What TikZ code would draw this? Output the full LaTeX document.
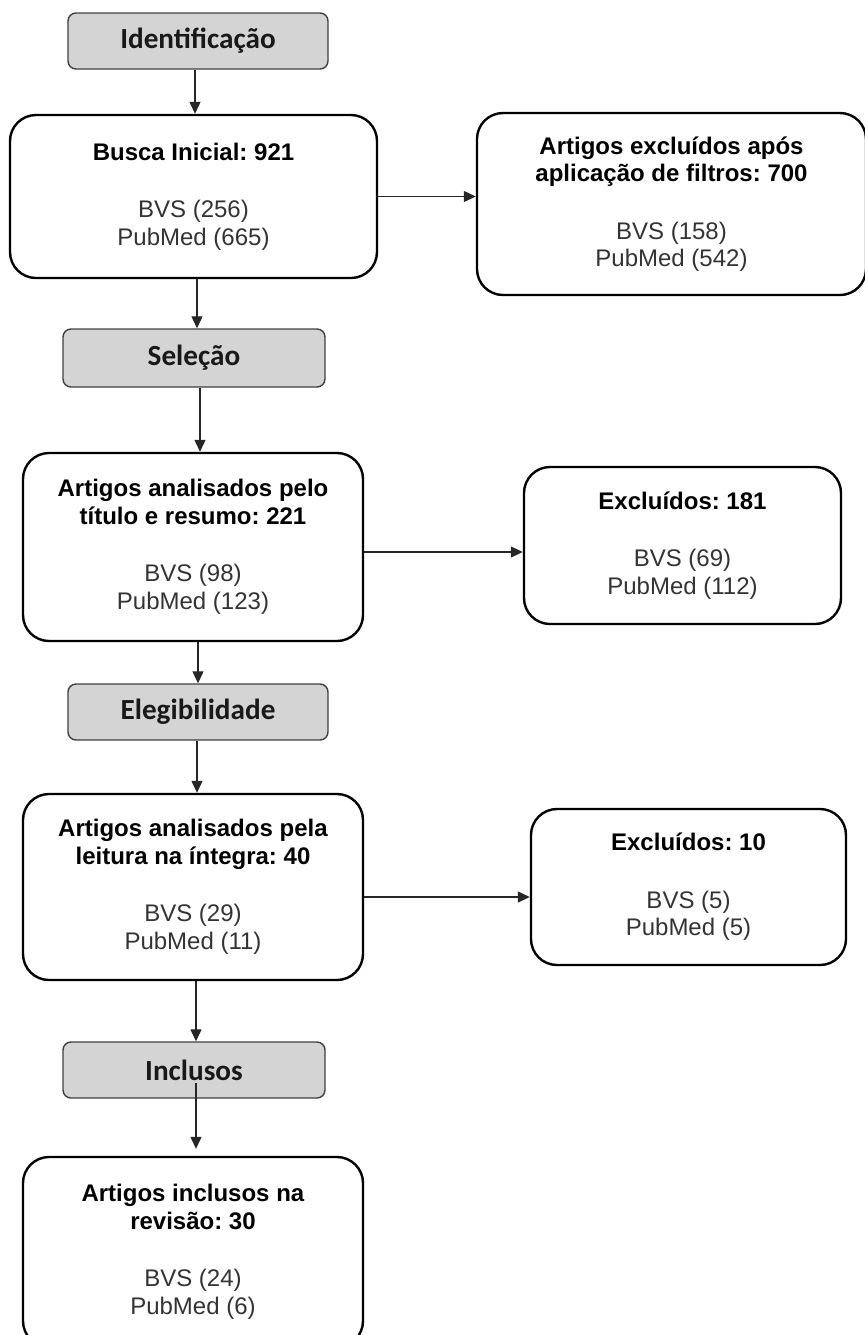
\documentclass[tikz,border=0pt]{standalone}
\usepackage{fontspec}
\setmainfont{Liberation Sans}
\newfontfamily\calibri{Carlito}
\usetikzlibrary{arrows.meta}
\frenchspacing
\definecolor{cinza}{HTML}{D4D4D4}
\newcommand{\cab}[1]{\textcolor{black}{\textbf{#1}}}
\tikzset{
    etapa/.style={
           rectangle,
           rounded corners=4pt,
           draw=black!75, line width=0.7pt,
           fill=cinza,
           font=\calibri\bfseries\fontsize{14.6}{17}\selectfont,
           text=black!90,
           inner sep=0pt,
           minimum height=28pt,
           text centered},
    caixa/.style={
           rectangle,
           rounded corners=13pt,
           draw=black, line width=1.2pt,
           align=center,
           inner sep=0pt,
           text=black!80,
           font=\fontsize{12}{13.75}\selectfont},
    seta/.style={-{Triangle[length=6pt,width=5.5pt]}, line width=0.6pt, black!85}
    }

\begin{document}
\begin{tikzpicture}[x=0.5pt,y=-0.5pt]
\useasboundingbox (0,0) rectangle (865,1335);
% etapas
\node[etapa, minimum width=130pt] (ident) at (198,41) {Identificação};
\node[etapa, minimum width=131pt, minimum height=29pt] (selecao) at (194,358) {Seleção};
\node[etapa, minimum width=130pt] (elegib) at (198,712) {Elegibilidade};
\node[etapa, minimum width=131pt] (inclusos) at (194,1070) {Inclusos};
% caixas
\node[caixa, minimum width=183.5pt, minimum height=81.5pt] (busca) at (193.5,196.5)
  {\cab{Busca Inicial: 921}\\[15pt]BVS (256)\\PubMed (665)};
\node[caixa, minimum width=194.5pt, minimum height=91pt] (excl1) at (671.5,204)
  {\cab{Artigos excluídos após}\\\cab{aplicação de filtros: 700}\\[15pt]BVS (158)\\PubMed (542)};
\node[caixa, minimum width=170pt, minimum height=94pt] (titulo) at (193,547)
  {\cab{Artigos analisados pelo}\\\cab{título e resumo: 221}\\[15pt]BVS (98)\\PubMed (123)};
\node[caixa, minimum width=158.5pt, minimum height=78.5pt] (excl2) at (682.5,545.5)
  {\cab{Excluídos: 181}\\[15pt]BVS (69)\\PubMed (112)};
\node[caixa, minimum width=170pt, minimum height=93pt] (leitura) at (193,887)
  {\cab{Artigos analisados pela}\\\cab{leitura na íntegra: 40}\\[15pt]BVS (29)\\PubMed (11)};
\node[caixa, minimum width=157.5pt, minimum height=78pt] (excl3) at (688.5,887)
  {\cab{Excluídos: 10}\\[15pt]BVS (5)\\PubMed (5)};
\node[caixa, minimum width=170pt, minimum height=95pt] (revisao) at (193,1252)
  {\cab{Artigos inclusos na}\\\cab{revisão: 30}\\[15pt]BVS (24)\\PubMed (6)};
% setas
\draw[seta] ([xshift=-1.5pt]ident.south) -- ([xshift=-1.5pt]ident.south |- busca.north);
\draw[seta] (busca.east) -- (busca.east -| excl1.west);
\draw[seta] ([xshift=1.5pt]selecao.north |- busca.south) -- ([xshift=1.5pt]selecao.north);
\draw[seta] ([xshift=3pt]selecao.south) -- ([xshift=3pt]selecao.south |- titulo.north);
\draw[seta] ([yshift=-2.5pt]titulo.east) -- ([yshift=-2.5pt]titulo.east -| excl2.west);
\draw[seta] ([xshift=2.5pt]titulo.south) -- ([xshift=2.5pt]titulo.south |- elegib.north);
\draw[seta] ([xshift=-0.5pt]elegib.south) -- ([xshift=-0.5pt]elegib.south |- leitura.north);
\draw[seta] ([yshift=-5pt]leitura.east) -- ([yshift=-5pt]leitura.east -| excl3.west);
\draw[seta] ([xshift=1.5pt]leitura.south) -- ([xshift=1.5pt]leitura.south |- inclusos.north);
\draw[seta] ([xshift=1pt,yshift=-6.5pt]inclusos.center) -- ([xshift=1pt,yshift=3.5pt]inclusos.center |- revisao.north);
\end{tikzpicture}
\end{document}
